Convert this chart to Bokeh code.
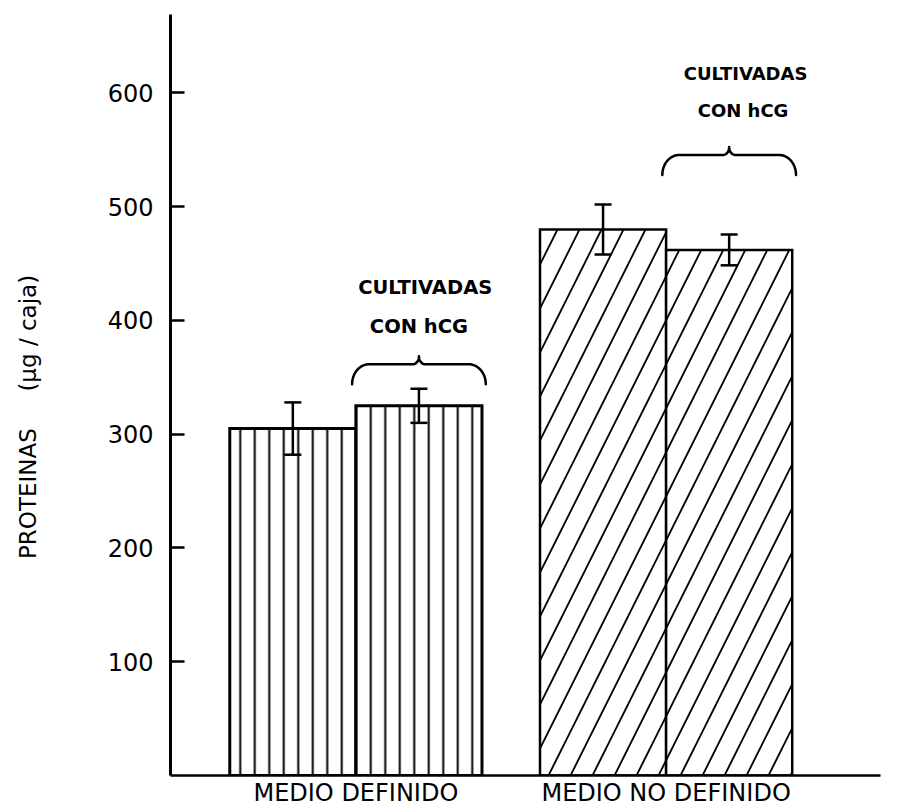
import numpy as np
from bokeh.plotting import figure
from bokeh.models import ColumnDataSource, Range1d, FixedTicker, Whisker, TeeHead, LinearAxis
from bokeh.core.properties import value
from bokeh.embed import file_html
from bokeh.resources import INLINE

# ---------------- data ----------------
groups = ["MEDIO DEFINIDO", "MEDIO NO DEFINIDO"]
conditions = ["control", "con hCG"]
definido_values = [305, 325]
definido_errors = [23, 15]
no_definido_values = [480, 462]
no_definido_errors = [22, 13.5]
y_ticks = [100, 200, 300, 400, 500, 600]
y_label = "PROTEINAS\u00a0\u00a0\u00a0\u00a0 (µg / caja)"
note_line1 = "CULTIVADAS"
note_line2 = "CON hCG"

# ---------------- layout ----------------
W, H = 898, 809
b_left, b_right, b_top, b_bottom = 170, 18, 14, 32
x_start, x_end = 0.03, 5.66
y_start, y_end = 0, 669
group_centers = [1.5, 3.96]
bar_width = 1.0
label_pad = "\u00a0" * 6   # shifts the centred y title down to where the original sits

frame_w = W - b_left - b_right
frame_h = H - b_top - b_bottom
sx = frame_w / (x_end - x_start)   # px per x unit
sy = frame_h / (y_end - y_start)   # px per y unit


def bar_positions(center):
    return [center - bar_width / 2, center + bar_width / 2]


pos_def = bar_positions(group_centers[0])
pos_nodef = bar_positions(group_centers[1])

src_def = ColumnDataSource(dict(
    x=pos_def, top=definido_values,
    upper=[v + e for v, e in zip(definido_values, definido_errors)],
    lower=[v - e for v, e in zip(definido_values, definido_errors)],
))
src_nodef = ColumnDataSource(dict(
    x=pos_nodef, top=no_definido_values,
    upper=[v + e for v, e in zip(no_definido_values, no_definido_errors)],
    lower=[v - e for v, e in zip(no_definido_values, no_definido_errors)],
))

p = figure(width=W, height=H,
           x_range=Range1d(x_start, x_end), y_range=Range1d(y_start, y_end),
           output_backend="svg", toolbar_location=None,
           min_border_left=b_left, min_border_right=b_right,
           min_border_top=b_top, min_border_bottom=b_bottom)
p.grid.visible = False
p.outline_line_color = None
p.background_fill_color = "white"
p.border_fill_color = "white"

p.vbar(x="x", top="top", bottom=0, width=bar_width, source=src_def,
       fill_color="white", line_color="black", line_width=3, line_join="miter",
       hatch_pattern="|", hatch_scale=14.5, hatch_weight=2, hatch_color="black")
p.vbar(x="x", top="top", bottom=0, width=bar_width, source=src_nodef,
       fill_color="white", line_color="black", line_width=2.5, line_join="miter",
       hatch_pattern="/", hatch_scale=44, hatch_weight=1.8, hatch_color="black")

for src in (src_def, src_nodef):
    p.add_layout(Whisker(base="x", upper="upper", lower="lower", source=src,
                         level="overlay", line_width=2.5, line_color="black",
                         upper_head=TeeHead(size=17, line_width=2.5, line_color="black"),
                         lower_head=TeeHead(size=17, line_width=2.5, line_color="black")))

# ---------------- braces over the hCG bars ----------------
brace_targets = [pos_def[1], pos_nodef[1]]
brace_half = 0.53
brace_base = [344, 528]
end_drop, end_r, tip_h, tip_r = 20, 17, 8, 6


def brace(x0, x1, y0):
    L = (x1 - x0) * sx
    c = L / 2
    t1 = np.linspace(np.pi, np.pi / 2, 20)
    hx = end_r + end_r * np.cos(t1)
    hy = end_drop * np.sin(t1)
    t2 = np.linspace(-np.pi / 2, 0, 14)
    tx = c - tip_r + tip_r * np.cos(t2)
    ty = end_drop + tip_h + tip_h * np.sin(t2)
    left_x = np.concatenate([hx, tx])
    left_y = np.concatenate([hy, ty])
    px = np.concatenate([left_x, (L - left_x)[::-1]])
    py = np.concatenate([left_y, left_y[::-1]])
    return x0 + px / sx, y0 + py / sy


for xc, yb in zip(brace_targets, brace_base):
    bx, by = brace(xc - brace_half, xc + brace_half, yb)
    p.line(bx, by, line_color="black", line_width=2.5, line_cap="round", line_join="round")

note1_x = [2.05, 4.59]
note1_y = [429, 617]
note2_x = [2.0, 4.57]
note2_y = [395, 585]
note_sizes = ["19.5px", "18px"]
p.text(x=note1_x, y=note1_y, text=[note_line1] * 2, text_font_size=note_sizes,
       text_font=value("DejaVu Sans"), text_font_style="bold",
       text_align="center", text_baseline="middle", text_color="black")
p.text(x=note2_x, y=note2_y, text=[note_line2] * 2, text_font_size=note_sizes,
       text_font=value("DejaVu Sans"), text_font_style="bold",
       text_align="center", text_baseline="middle", text_color="black")

# ---------------- axes ----------------
p.yaxis.ticker = FixedTicker(ticks=y_ticks)
p.yaxis.major_tick_in = 14
p.yaxis.major_tick_out = 0
p.yaxis.minor_tick_line_color = None
p.yaxis.axis_line_width = 3
p.yaxis.major_tick_line_width = 2.5
p.yaxis.major_label_text_font = "DejaVu Sans"
p.yaxis.major_label_text_font_size = "24px"
p.yaxis.major_label_text_color = "black"
p.yaxis.major_label_standoff = 17

p.xaxis.ticker = FixedTicker(ticks=group_centers)
p.xaxis.major_label_overrides = {c: g for c, g in zip(group_centers, groups)}
p.xaxis.major_tick_line_color = None
p.xaxis.minor_tick_line_color = None
p.xaxis.major_tick_in = 0
p.xaxis.major_tick_out = 0
p.xaxis.axis_line_width = 2.5
p.xaxis.major_label_text_font = "DejaVu Sans"
p.xaxis.major_label_text_font_size = "24px"
p.xaxis.major_label_text_color = "black"
p.xaxis.major_label_standoff = 3

# y-axis title on a bare companion axis
label_axis = LinearAxis(ticker=FixedTicker(ticks=[]),
                        axis_line_color=None, major_tick_line_color=None,
                        minor_tick_line_color=None, major_label_standoff=0,
                        axis_label=y_label + label_pad, axis_label_standoff=64,
                        axis_label_text_font="DejaVu Sans",
                        axis_label_text_font_size="23px",
                        axis_label_text_font_style="normal",
                        axis_label_text_color="black")
p.add_layout(label_axis, "left")

open("out.html", "w").write(file_html(p, INLINE))
